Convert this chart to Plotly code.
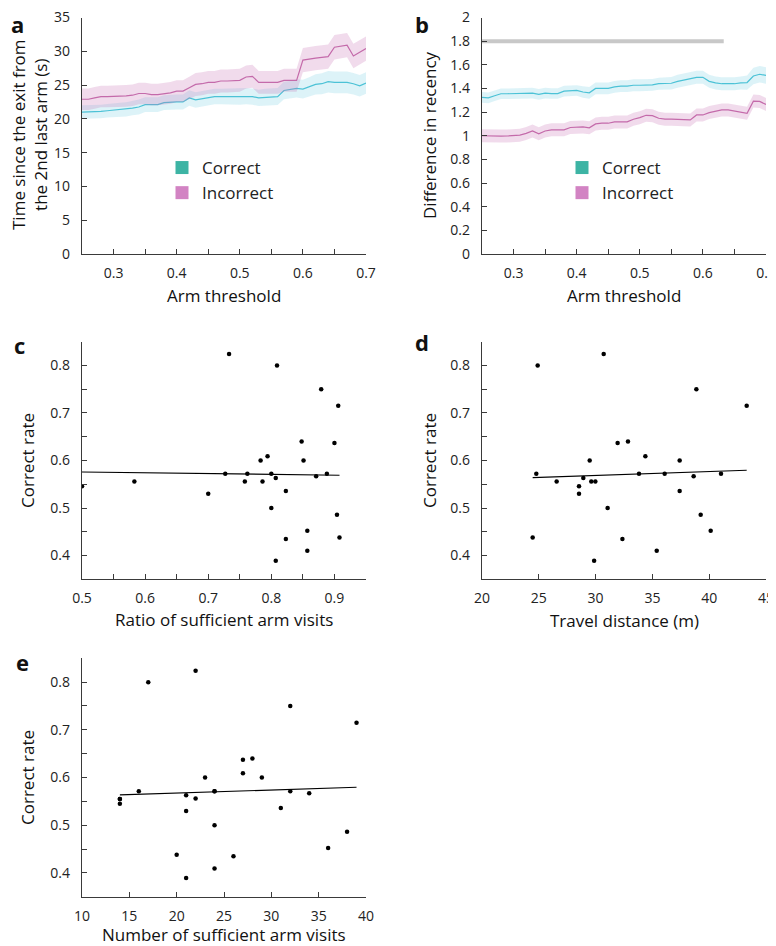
import numpy as np
import plotly.graph_objects as go

# arm threshold grid (panels a, b)
threshold = [0.25, 0.26, 0.27, 0.28, 0.29, 0.30, 0.31, 0.32, 0.33, 0.34,
             0.35, 0.36, 0.37, 0.38, 0.39, 0.40, 0.41, 0.42, 0.43, 0.44,
             0.45, 0.46, 0.47, 0.48, 0.49, 0.50, 0.51, 0.52, 0.53, 0.54,
             0.55, 0.56, 0.57, 0.58, 0.59, 0.60, 0.61, 0.62, 0.63, 0.64,
             0.65, 0.66, 0.67, 0.68, 0.69, 0.70]

# a: time since exit from the 2nd last arm (s)
time_correct = [21.0, 21.0, 21.0, 21.1, 21.2, 21.3, 21.35, 21.4, 21.6, 21.75,
                22.1, 22.1, 22.1, 22.4, 22.5, 22.5, 22.5, 23.1, 22.8, 23.0,
                23.1, 23.3, 23.3, 23.3, 23.3, 23.3, 23.35, 23.3, 23.1, 23.2,
                23.25, 23.3, 24.2, 24.3, 24.5, 24.4, 24.7, 25.1, 25.2, 25.5,
                25.4, 25.4, 25.4, 25.2, 24.9, 25.3]
time_correct_sem = [1.0, 1.0, 1.0, 1.0, 1.0, 1.05, 1.05, 1.05, 1.05, 1.1,
                    1.1, 1.1, 1.1, 1.1, 1.1, 1.1, 1.1, 1.15, 1.15, 1.15,
                    1.15, 1.15, 1.15, 1.2, 1.2, 1.2, 1.2, 1.2, 1.2, 1.25,
                    1.25, 1.25, 1.3, 1.3, 1.35, 1.4, 1.45, 1.5, 1.55, 1.6,
                    1.6, 1.6, 1.6, 1.6, 1.6, 1.6]
time_incorrect = [22.9, 22.9, 23.1, 23.3, 23.3, 23.3, 23.3, 23.4, 23.5, 23.75,
                  23.75, 23.6, 23.6, 23.7, 23.85, 24.1, 24.1, 24.6, 25.1, 25.2,
                  25.4, 25.4, 25.6, 25.6, 25.6, 25.7, 26.2, 26.3, 25.4, 25.35,
                  25.4, 25.4, 25.7, 25.7, 25.7, 28.7, 28.9, 29.0, 29.1, 29.2,
                  30.6, 30.7, 30.9, 29.3, 29.9, 30.4]
time_incorrect_sem = [1.6, 1.6, 1.6, 1.6, 1.6, 1.6, 1.6, 1.6, 1.6, 1.6,
                      1.6, 1.6, 1.6, 1.6, 1.6, 1.6, 1.6, 1.65, 1.7, 1.7,
                      1.7, 1.7, 1.7, 1.7, 1.7, 1.7, 1.7, 1.7, 1.7, 1.7,
                      1.7, 1.7, 1.7, 1.7, 1.7, 1.8, 1.8, 1.8, 1.8, 1.8,
                      1.8, 1.8, 1.8, 1.8, 1.8, 1.8]

# b: difference in recency
recency_correct = [1.324, 1.32, 1.338, 1.355, 1.355, 1.356, 1.36, 1.36, 1.36, 1.35,
                   1.36, 1.357, 1.357, 1.377, 1.383, 1.383, 1.37, 1.363, 1.40, 1.40,
                   1.40, 1.413, 1.42, 1.42, 1.427, 1.427, 1.427, 1.43, 1.44, 1.444,
                   1.444, 1.46, 1.47, 1.48, 1.494, 1.494, 1.46, 1.447, 1.44, 1.44,
                   1.44, 1.447, 1.45, 1.505, 1.52, 1.51]
recency_correct_sem = [0.045, 0.045, 0.045, 0.045, 0.045, 0.045, 0.045, 0.045, 0.045, 0.045,
                       0.045, 0.045, 0.045, 0.045, 0.045, 0.045, 0.048, 0.05, 0.05, 0.05,
                       0.05, 0.05, 0.05, 0.05, 0.05, 0.05, 0.05, 0.05, 0.05, 0.052,
                       0.052, 0.055, 0.055, 0.055, 0.055, 0.055, 0.055, 0.055, 0.055, 0.055,
                       0.055, 0.055, 0.06, 0.07, 0.07, 0.07]
recency_incorrect = [1.0, 0.997, 0.997, 0.997, 0.998, 1.0, 1.005, 1.02, 1.04, 1.017,
                     1.04, 1.05, 1.05, 1.05, 1.07, 1.075, 1.075, 1.067, 1.10, 1.106,
                     1.106, 1.117, 1.117, 1.117, 1.14, 1.153, 1.173, 1.17, 1.148, 1.14,
                     1.14, 1.14, 1.137, 1.134, 1.176, 1.176, 1.196, 1.21, 1.218, 1.218,
                     1.21, 1.20, 1.19, 1.293, 1.29, 1.265]
recency_incorrect_sem = [0.055] * 46
chance_x = [0.25, 0.633]
chance_y = [1.8, 1.8]

# c, d, e: per-animal scatter
correct_rate = [0.824, 0.800, 0.750, 0.715, 0.640, 0.637, 0.609, 0.600, 0.600, 0.572,
                0.572, 0.572, 0.572, 0.567, 0.563, 0.556, 0.556, 0.556, 0.546, 0.536,
                0.530, 0.500, 0.486, 0.452, 0.438, 0.435, 0.410, 0.389]
ratio_visits = [0.733, 0.809, 0.879, 0.906, 0.848, 0.900, 0.794, 0.783, 0.851, 0.727,
                0.762, 0.800, 0.888, 0.871, 0.807, 0.758, 0.786, 0.583, 0.500, 0.823,
                0.700, 0.800, 0.904, 0.857, 0.908, 0.823, 0.857, 0.807]
travel_dist = [30.71, 24.90, 38.87, 43.30, 32.85, 31.94, 34.38, 29.48, 37.40, 24.78,
               33.82, 36.08, 41.04, 38.63, 28.92, 26.57, 29.62, 29.98, 28.54, 37.40,
               28.54, 31.06, 39.25, 40.13, 24.46, 32.36, 35.38, 29.87]
n_visits = [22, 17, 32, 39, 28, 27, 27, 23, 29, 16,
            24, 32, 24, 34, 21, 22, 14, 14, 14, 31,
            21, 24, 38, 36, 20, 26, 24, 21]
rate_e = [0.824, 0.800, 0.750, 0.715, 0.640, 0.637, 0.609, 0.600, 0.600, 0.571,
          0.571, 0.571, 0.571, 0.567, 0.563, 0.556, 0.555, 0.555, 0.545, 0.536,
          0.530, 0.500, 0.486, 0.452, 0.438, 0.435, 0.409, 0.389]

TEAL_LINE = "#4cc2d6"
TEAL_BAND = "rgba(100,200,225,0.22)"
PINK_LINE = "#c46aaa"
PINK_BAND = "rgba(200,110,180,0.25)"
TEAL_LEG = "#3db4a4"
PINK_LEG = "#d283c3"
FONT = "Open Sans"
# the page body has an 8px margin, so the figure is 16px smaller than the window
OFF = 8
W, H = 776 - OFF, 946 - OFF


def px(x):
    return (x - OFF) / W


def py(y):
    return 1 - (y - OFF) / H


fig = go.Figure()


def band(xs, mean, sem, line_col, band_col, xa, ya):
    up = [m + s for m, s in zip(mean, sem)]
    lo = [m - s for m, s in zip(mean, sem)]
    fig.add_trace(go.Scatter(x=xs, y=up, mode="lines", line=dict(width=0), showlegend=False,
                             hoverinfo="skip", xaxis=xa, yaxis=ya))
    fig.add_trace(go.Scatter(x=xs, y=lo, mode="lines", line=dict(width=0), fill="tonexty",
                             fillcolor=band_col, showlegend=False, hoverinfo="skip",
                             xaxis=xa, yaxis=ya))
    fig.add_trace(go.Scatter(x=xs, y=mean, mode="lines", line=dict(color=line_col, width=1.2),
                             showlegend=False, xaxis=xa, yaxis=ya))


# panel a
band(threshold, time_correct, time_correct_sem, TEAL_LINE, TEAL_BAND, "x", "y")
band(threshold, time_incorrect, time_incorrect_sem, PINK_LINE, PINK_BAND, "x", "y")
# panel b
fig.add_trace(go.Scatter(x=chance_x, y=chance_y, mode="lines", line=dict(color="#c8c8c8", width=4),
                         showlegend=False, xaxis="x2", yaxis="y2"))
band(threshold, recency_correct, recency_correct_sem, TEAL_LINE, TEAL_BAND, "x2", "y2")
band(threshold, recency_incorrect, recency_incorrect_sem, PINK_LINE, PINK_BAND, "x2", "y2")

# legends for a and b
for lg, xa, ya in [("legend", "x", "y"), ("legend2", "x2", "y2")]:
    fig.add_trace(go.Scatter(x=[None], y=[None], mode="markers", name="Correct",
                             marker=dict(symbol="square", size=13, color=TEAL_LEG),
                             legend=lg, xaxis=xa, yaxis=ya))
    fig.add_trace(go.Scatter(x=[None], y=[None], mode="markers", name="Incorrect",
                             marker=dict(symbol="square", size=13, color=PINK_LEG),
                             legend=lg, xaxis=xa, yaxis=ya))


def scatter_fit(xs, ys, xa, ya):
    fig.add_trace(go.Scatter(x=xs, y=ys, mode="markers", marker=dict(color="black", size=4.5),
                             showlegend=False, xaxis=xa, yaxis=ya))
    k, b = np.polyfit(xs, ys, 1)
    lx = [min(xs), max(xs)]
    fig.add_trace(go.Scatter(x=lx, y=[k * v + b for v in lx], mode="lines",
                             line=dict(color="black", width=1.1), showlegend=False,
                             xaxis=xa, yaxis=ya))


scatter_fit(ratio_visits, correct_rate, "x3", "y3")
scatter_fit(travel_dist, correct_rate, "x4", "y4")
scatter_fit(n_visits, rate_e, "x5", "y5")

base = dict(showline=True, linecolor="#3a3a3a", linewidth=1.3, ticks="inside", ticklen=5,
            tickcolor="#3a3a3a", tickwidth=1.2, showgrid=False, zeroline=False,
            automargin=False, ticklabeloverflow="allow",
            tickfont=dict(family=FONT, size=14, color="#222"))
minor = dict(ticks="inside", ticklen=5, tickcolor="#3a3a3a", tickwidth=1.2, showgrid=False)

L = [px(82), px(366)]
R = [px(482), px(766)]
row1 = [py(254), py(17.5)]
row2 = [py(579.3), py(341.7)]
row3 = [py(896.7), py(658.3)]

leg = dict(xanchor="left", yanchor="top", bgcolor="rgba(0,0,0,0)", traceorder="normal",
           font=dict(family=FONT, size=17, color="#222"), tracegroupgap=0, itemwidth=30)

fig.update_layout(
    width=W, height=H, margin=dict(l=0, r=0, t=0, b=0, pad=0, autoexpand=False),
    paper_bgcolor="white", plot_bgcolor="white",
    font=dict(family=FONT, color="#222"),
    xaxis=dict(base, domain=L, anchor="y", range=[0.25, 0.7], tickvals=[0.3, 0.4, 0.5, 0.6, 0.7],
               minor=dict(minor, dtick=0.05, tick0=0.25), ticklabelstandoff=6),
    yaxis=dict(base, domain=row1, anchor="x", range=[0, 35], dtick=5, ticklabelstandoff=8),
    xaxis2=dict(base, domain=R, anchor="y2", range=[0.25, 0.7], tickvals=[0.3, 0.4, 0.5, 0.6, 0.7],
                minor=dict(minor, dtick=0.05, tick0=0.25), ticklabelstandoff=6),
    yaxis2=dict(base, domain=row1, anchor="x2", range=[0, 2], dtick=0.2, ticklabelstandoff=8),
    xaxis3=dict(base, domain=L, anchor="y3", range=[0.5, 0.95], tickvals=[0.5, 0.6, 0.7, 0.8, 0.9],
                minor=dict(minor, dtick=0.05, tick0=0.5), ticklabelstandoff=6),
    yaxis3=dict(base, domain=row2, anchor="x3", range=[0.35, 0.85], tickvals=[0.4, 0.5, 0.6, 0.7, 0.8],
                minor=dict(minor, dtick=0.05, tick0=0.35), ticklabelstandoff=8),
    xaxis4=dict(base, domain=R, anchor="y4", range=[20, 45], dtick=5, ticklabelstandoff=6),
    yaxis4=dict(base, domain=row2, anchor="x4", range=[0.35, 0.85], tickvals=[0.4, 0.5, 0.6, 0.7, 0.8],
                minor=dict(minor, dtick=0.05, tick0=0.35), ticklabelstandoff=8),
    xaxis5=dict(base, domain=L, anchor="y5", range=[10, 40], dtick=5, ticklabelstandoff=6),
    yaxis5=dict(base, domain=row3, anchor="x5", range=[0.35, 0.85], tickvals=[0.4, 0.5, 0.6, 0.7, 0.8],
                minor=dict(minor, dtick=0.05, tick0=0.35), ticklabelstandoff=8),
    legend=dict(leg, x=px(162), y=py(150)),
    legend2=dict(leg, x=px(562), y=py(150)),
)


def note(text, x, y, size=17, angle=0, bold=False):
    fig.add_annotation(text=f"<b>{text}</b>" if bold else text, x=px(x), y=py(y),
                       xref="paper", yref="paper", showarrow=False, textangle=angle,
                       xanchor="center", yanchor="middle",
                       font=dict(family=FONT, size=size, color="#111"))


# axis titles
note("Time since the exit from<br>the 2nd last arm (s)", 29, 135, angle=-90)
note("Difference in recency", 429, 135, angle=-90)
note("Correct rate", 27, 461, angle=-90)
note("Correct rate", 429, 461, angle=-90)
note("Correct rate", 27, 778, angle=-90)
note("Arm threshold", 224, 296)
note("Arm threshold", 624, 296)
note("Ratio of sufficient arm visits", 224, 619)
note("Travel distance (m)", 624, 620)
note("Number of sufficient arm visits", 224, 934)
# panel letters
for t, x, y in [("a", 17, 24), ("b", 422, 24), ("c", 19, 345), ("d", 422, 342), ("e", 22, 662)]:
    note(t, x, y, size=22, bold=True)

fig.write_html("out.html")
